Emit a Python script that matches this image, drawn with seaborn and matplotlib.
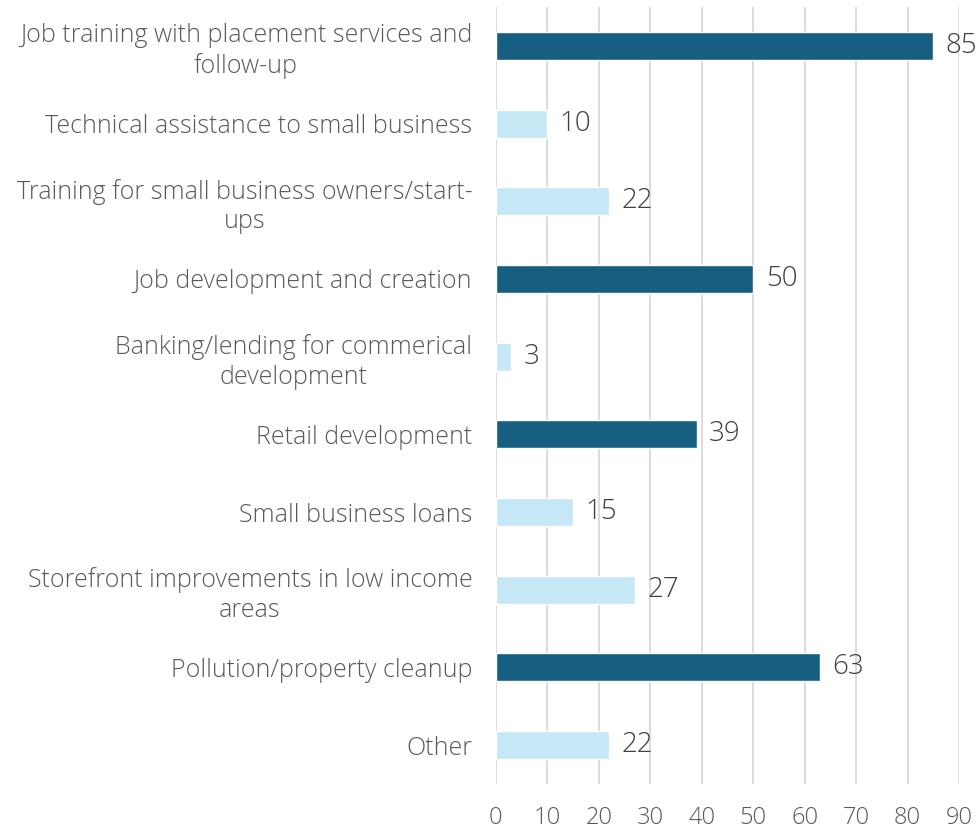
import matplotlib
matplotlib.use("Agg")
import matplotlib.pyplot as plt
import seaborn as sns
import pandas as pd

# categories and counts, top to bottom
categories = [
    "Job training with placement services and\nfollow-up",
    "Technical assistance to small business",
    "Training for small business owners/start-\nups",
    "Job development and creation",
    "Banking/lending for commerical\ndevelopment",
    "Retail development",
    "Small business loans",
    "Storefront improvements in low income\nareas",
    "Pollution/property cleanup",
    "Other",
]
counts = [85, 10, 22, 50, 3, 39, 15, 27, 63, 22]
highlight = ["yes", "no", "no", "yes", "no", "yes", "no", "no", "yes", "no"]

df = pd.DataFrame({"category": categories, "count": counts, "group": highlight})

sns.set_style("white")
plt.rcParams["font.family"] = ["Open Sans", "DejaVu Sans"]

fig = plt.figure(figsize=(9.8, 8.3), dpi=100)
ax = fig.add_axes([0.506, 0.0554, 0.4726, 0.9362])

palette = {"yes": "#175F80", "no": "#C6E7F6"}
sns.barplot(data=df, y="category", x="count", hue="group", palette=palette,
            dodge=False, width=0.36, legend=False, ax=ax, saturation=1)

ax.set_xlim(0, 90)
ax.set_xticks(range(0, 91, 10))
ax.xaxis.grid(True, color="#D9D9D9", linewidth=1.3)
ax.set_axisbelow(True)
for s in ax.spines.values():
    s.set_visible(False)
ax.set_xlabel("")
ax.set_ylabel("")
ax.tick_params(axis="x", length=0, pad=16, labelsize=17, labelcolor="#595959")
ax.tick_params(axis="y", length=0, pad=17, labelsize=18, labelcolor="#595959")
for lbl in ax.get_yticklabels():
    lbl.set_multialignment("center")
    lbl.set_fontweight("light")
    lbl.set_linespacing(1.25)
for lbl in ax.get_xticklabels():
    lbl.set_fontweight("light")

for cont in ax.containers:
    ax.bar_label(cont, padding=9, fontsize=20, color="#404040", fontweight="light")

fig.savefig("out.png", dpi=100)
